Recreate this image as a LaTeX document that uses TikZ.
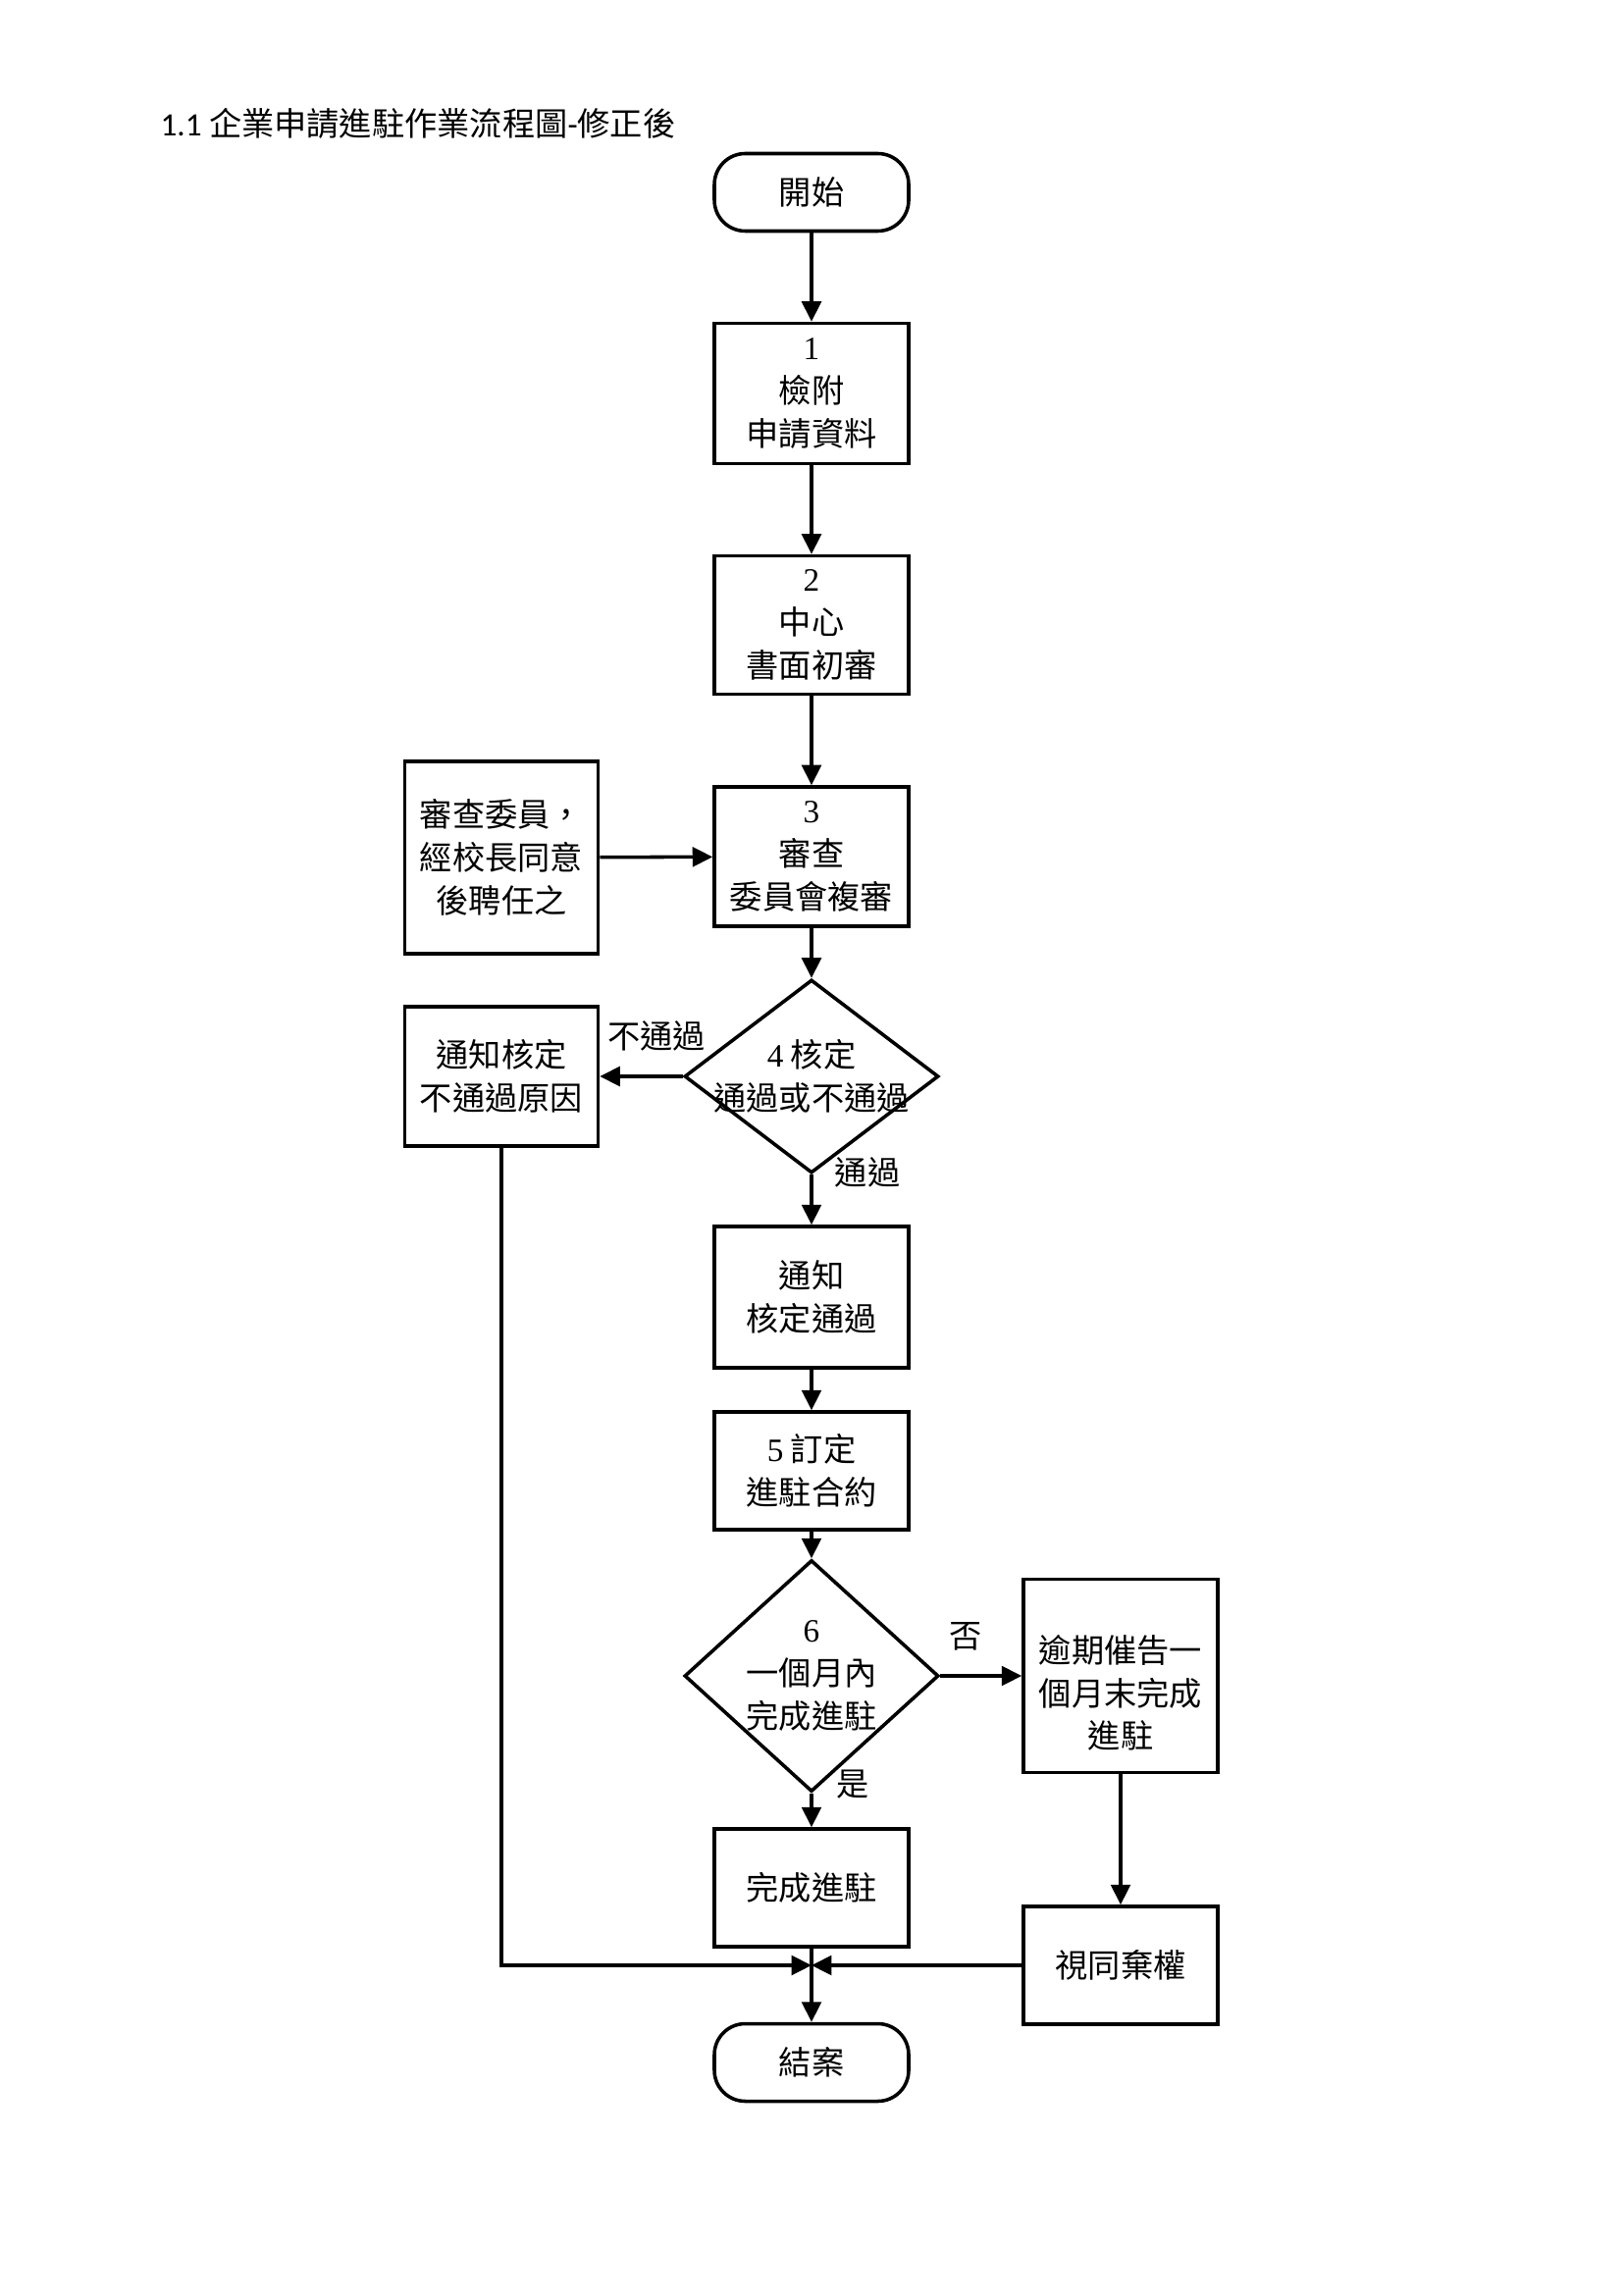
\documentclass[tikz,border=0pt]{standalone}
\usepackage{fontspec}
\setmainfont{Noto Sans CJK TC}
\newfontfamily\numfont{Liberation Serif}
\newfontfamily\titlefont{Carlito}
\usepackage{tikz}
\usetikzlibrary{arrows.meta,shapes.geometric,shapes.misc,positioning}
\def\pxl{0.12696mm}
\tikzset{
    proc/.style={
    rectangle,draw=black,line width=0.45mm,minimum width=198*\pxl,inner sep=0pt,align=center
    },
    term/.style={
    rectangle,rounded corners=4mm,draw=black,line width=0.45mm,minimum width=198*\pxl,minimum height=79*\pxl,inner sep=0pt
    },
    decide/.style={
    diamond,draw=black,line width=0.45mm,minimum width=259*\pxl,inner sep=0pt
    },
  line/.style={draw, line width=0.45mm, ->},
  tag/.style={inner sep=0pt},
}

\begin{document}
\begin{tikzpicture}[x=\pxl,y=-\pxl,>={Triangle[length=2.6mm,width=2.5mm]},font=\fontsize{12pt}{15.8pt}\selectfont]
\def \cx {827}
\def \lx {511}
\def \rx {1142}
\useasboundingbox (0,0) rectangle (1654,2339);

  \node[tag,anchor=west] (title) at (163,126) {{\titlefont 1.1} 企業申請進駐作業流程圖{\titlefont -}修正後};

  % main column
  \node[term] (start) at (\cx,196) {開始};
  \node[proc,minimum height=143*\pxl] (attach) at (\cx,401) {{\numfont 1}\\檢附\\申請資料};
  \node[proc,minimum height=141*\pxl] (first) at (\cx,637) {{\numfont 2}\\中心\\書面初審};
  \node[proc,minimum height=142*\pxl] (review) at (\cx,873) {{\numfont 3}\\審查\\委員會複審};
  \node[proc,minimum width=197*\pxl,minimum height=196*\pxl] (panel) at (\lx,874) {審查委員，\\經校長同意\\後聘任之};
  \node[decide,minimum height=197*\pxl,label={[align=center]center:{\numfont 4} 核定\\通過或不通過}] (check) at (\cx,1097) {};
  \node[proc,minimum width=197*\pxl,minimum height=142*\pxl] (fail) at (\lx,1097) {通知核定\\不通過原因};
  \node[proc,minimum height=144*\pxl] (pass) at (\cx,1322) {通知\\核定通過};
  \node[proc,minimum height=120*\pxl] (contract) at (\cx,1499) {{\numfont 5} 訂定\\進駐合約};
  \node[decide,minimum height=236*\pxl,label={[align=center]center:{\numfont 6}\\一個月內\\完成進駐}] (month) at (\cx,1708) {};
  \node[proc,minimum height=197*\pxl,label={[align=center,yshift=-2.2mm]center:逾期催告一\\個月末完成\\進駐}] (late) at (\rx,1708) {};
  \node[proc,minimum height=120*\pxl] (done) at (\cx,1924) {完成進駐};
  \node[proc,minimum height=120*\pxl] (quit) at (\rx,2003) {視同棄權};
  \coordinate (join) at (\cx,2003);
  \node[term] (finish) at (\cx,2102) {結案};

  % branch labels
  \node[tag] (nolbl) at (669,1056) {不通過};
  \node[tag] (yeslbl) at (884,1195) {通過};
  \node[tag] (notlbl) at (984,1668) {否};
  \node[tag] (oklbl) at (869,1819) {是};

  % connectors
  \path[line] (start) -- (attach);
  \path[line] (attach) -- (first);
  \path[line] (first) -- (review);
  \path[line] (panel) -- (review);
  \path[line] (review) -- (check);
  \path[line] (check.west) -- (fail);
  \path[line] (check.south) -- (pass);
  \path[line] (pass) -- (contract);
  \path[line] (contract) -- (month);
  \path[line] (month.east) -- (late);
  \path[line] (month.south) -- (done);
  \path[line] (late) -- (quit);
  \path[line] (done) -- (finish);
  \path[line] (fail.south) |- (join);
  \path[line] (quit.west) -- (join);
\end{tikzpicture}
\end{document}
